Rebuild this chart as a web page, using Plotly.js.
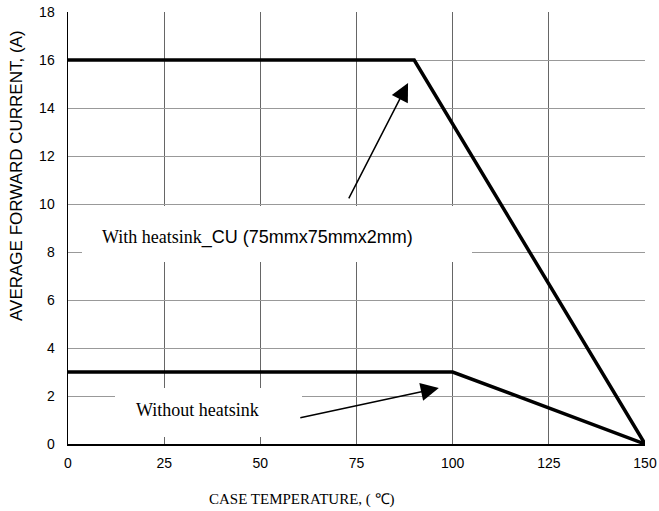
<!DOCTYPE html>
<html><head><meta charset="utf-8">
<script src="https://cdn.plot.ly/plotly-3.0.1.min.js"></script>
<style>html,body{margin:0;padding:0;background:#fff}</style>
</head><body><div id="chart" style="width:659px;height:511px"></div>
<script>
const withHeatsinkTemp = [0, 90, 150];
const withHeatsinkCurrent = [16, 16, 0];
const withoutHeatsinkTemp = [0, 100, 150];
const withoutHeatsinkCurrent = [3, 3, 0];
const xTicks = [0, 25, 50, 75, 100, 125, 150];
const yTicks = [0, 2, 4, 6, 8, 10, 12, 14, 16, 18];

const traces = [
  {x: withHeatsinkTemp, y: withHeatsinkCurrent, mode: 'lines', line: {color: '#000', width: 3.5}, hoverinfo: 'none', showlegend: false},
  {x: withoutHeatsinkTemp, y: withoutHeatsinkCurrent, mode: 'lines', line: {color: '#000', width: 3.5}, hoverinfo: 'none', showlegend: false}
];

const px2x = p => (p - 68) / 577 * 150;
const px2y = p => (444 - p) / 24;

const layout = {
  width: 659, height: 511,
  margin: {l: 68, r: 14, t: 12, b: 67},
  paper_bgcolor: '#fff', plot_bgcolor: '#fff',
  showlegend: false,
  font: {family: 'Liberation Sans, Arial, sans-serif', size: 14, color: '#000'},
  xaxis: {
    range: [0, 150], tickvals: xTicks, ticktext: xTicks.map(String),
    showgrid: true, gridcolor: '#666', gridwidth: 1,
    showline: true, linecolor: '#000', linewidth: 1.5, zeroline: false,
    ticks: '', ticklen: 0, ticklabelstandoff: 6, fixedrange: true,
    tickfont: {family: 'Liberation Sans, Arial, sans-serif', size: 14}
  },
  yaxis: {
    range: [0, 18], tickvals: yTicks, ticktext: yTicks.map(String),
    showgrid: true, gridcolor: '#999', gridwidth: 1,
    showline: true, linecolor: '#000', linewidth: 1.5, zeroline: false,
    ticks: '', ticklen: 0, ticklabelstandoff: 9, fixedrange: true,
    tickfont: {family: 'Liberation Sans, Arial, sans-serif', size: 14}
  },
  shapes: [
    {type: 'rect', xref: 'x', yref: 'y', x0: px2x(82), x1: px2x(472), y0: px2y(262), y1: px2y(206), fillcolor: '#fff', line: {width: 0}, layer: 'between'},
    {type: 'rect', xref: 'x', yref: 'y', x0: px2x(115), x1: px2x(302), y0: px2y(437), y1: px2y(388), fillcolor: '#fff', line: {width: 0}, layer: 'between'}
  ],
  annotations: [
    {xref: 'paper', yref: 'paper', x: (302-68)/577, y: (444-499)/432, xanchor: 'center', yanchor: 'middle', showarrow: false,
     text: 'CASE TEMPERATURE, ( ℃)', font: {family: 'Liberation Serif, Times New Roman, serif', size: 15, color: '#000'}},
    {xref: 'paper', yref: 'paper', x: (16-68)/577, y: (444-176)/432, xanchor: 'center', yanchor: 'middle', showarrow: false, textangle: -90,
     text: 'AVERAGE FORWARD CURRENT, (A)', font: {family: 'Liberation Sans, Arial, sans-serif', size: 17, color: '#000'}},
    {xref: 'x', yref: 'y', x: px2x(100), y: px2y(237), xanchor: 'left', yanchor: 'middle', showarrow: false,
     text: 'With heatsink<span style="font-family:Liberation Sans, Arial, sans-serif">_CU (75mmx75mmx2mm)</span>',
     font: {family: 'Liberation Serif, Times New Roman, serif', size: 18, color: '#000'}},
    {xref: 'x', yref: 'y', x: px2x(134), y: px2y(410), xanchor: 'left', yanchor: 'middle', showarrow: false,
     text: 'Without heatsink', font: {family: 'Liberation Serif, Times New Roman, serif', size: 18, color: '#000'}},
    {xref: 'x', yref: 'y', axref: 'x', ayref: 'y', x: 88.4, y: 15.04, ax: 72.8, ay: 10.17, text: '', showarrow: true,
     arrowhead: 2, arrowsize: 2.4, arrowwidth: 1.5, arrowcolor: '#000', standoff: 0},
    {xref: 'x', yref: 'y', axref: 'x', ayref: 'y', x: 96.4, y: 2.33, ax: 60.0, ay: 1.08, text: '', showarrow: true,
     arrowhead: 2, arrowsize: 2.4, arrowwidth: 1.5, arrowcolor: '#000', standoff: 0}
  ]
};

Plotly.newPlot('chart', traces, layout, {displayModeBar: false, staticPlot: true});
</script></body></html>
